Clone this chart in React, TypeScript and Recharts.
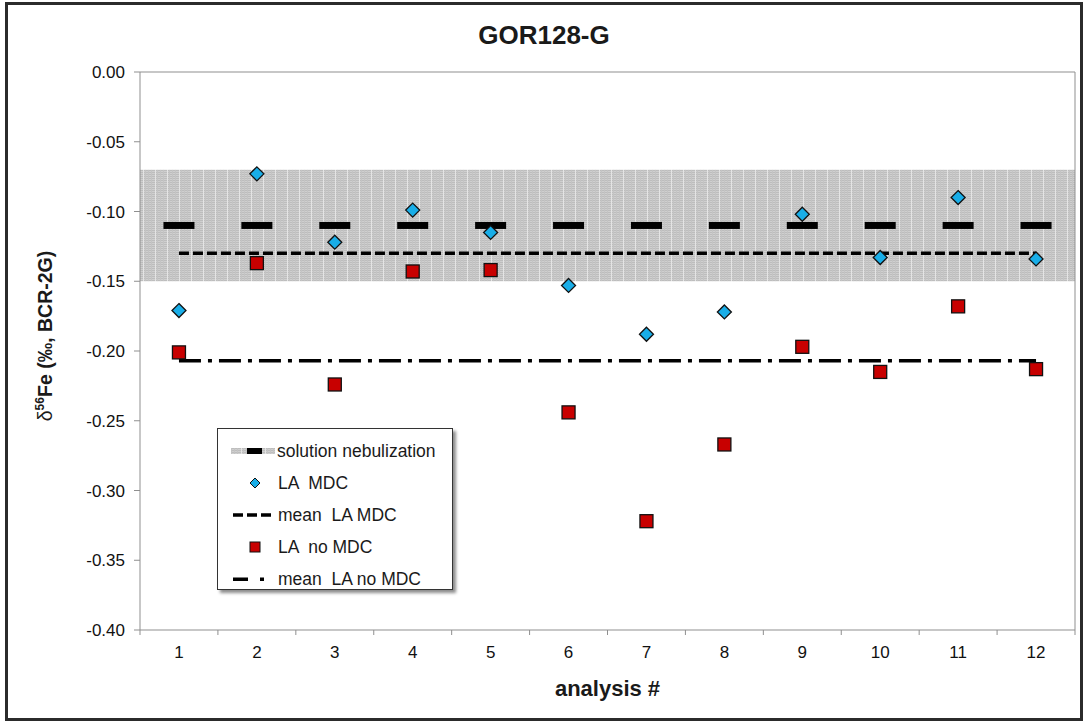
import React from 'react';
import {
  ComposedChart,
  Scatter,
  Line,
  XAxis,
  YAxis,
  ReferenceArea,
  ReferenceLine
} from 'recharts';

// analysis number on x, δ56Fe (‰) on y
const analyses = [1, 2, 3, 4, 5, 6, 7, 8, 9, 10, 11, 12];
const laMdc = [-0.171, -0.073, -0.122, -0.099, -0.115, -0.153, -0.188, -0.172, -0.102, -0.133, -0.09, -0.134];
const laNoMdc = [-0.201, -0.137, -0.224, -0.143, -0.142, -0.244, -0.322, -0.267, -0.197, -0.215, -0.168, -0.213];
const solutionValue = -0.11;
const solutionBand = [-0.15, -0.07];
const meanLaMdc = -0.13;
const meanLaNoMdc = -0.207;
const yTicks = [0, -0.05, -0.1, -0.15, -0.2, -0.25, -0.3, -0.35, -0.4];

const W = 1085;
const H = 722;
const MARGIN = { top: 72, right: 10, bottom: 52, left: 80 };
const Y_AXIS_W = 60;
const X_AXIS_H = 40;
const PLOT_LEFT = MARGIN.left + Y_AXIS_W;
const PLOT_RIGHT = W - MARGIN.right;
const PLOT_BOTTOM = H - MARGIN.bottom - X_AXIS_H;
const HALF_BAND = (PLOT_RIGHT - PLOT_LEFT) / analyses.length / 2;

const AXIS = '#8f8f8f';
const BLUE = '#19aee8';
const RED = '#c80000';
const FONT = '"Liberation Sans", Arial, Helvetica, sans-serif';

const rows = analyses.map((x, i) => ({
  x,
  mdc: laMdc[i],
  noMdc: laNoMdc[i],
  sn: solutionValue,
  meanMdc: meanLaMdc,
  meanNoMdc: meanLaNoMdc
}));

const Diamond = (props: any) => {
  const { cx, cy } = props;
  const r = 7;
  return (
    <path
      d={`M${cx},${cy - r}L${cx + r},${cy}L${cx},${cy + r}L${cx - r},${cy}Z`}
      fill={BLUE}
      stroke="#111"
      strokeWidth={1.3}
    />
  );
};

const Square = (props: any) => {
  const { cx, cy } = props;
  const s = 13;
  return <rect x={cx - s / 2} y={cy - s / 2} width={s} height={s} fill={RED} stroke="#111" strokeWidth={1.3} />;
};

const SolutionDash = (props: any) => {
  const { cx, cy } = props;
  return <rect x={cx - 15.5} y={cy - 3.5} width={31} height={7} fill="#000" />;
};

// tick marks sit on the category boundaries, labels in the middle
const XTick = (props: any) => {
  const { x, payload, index } = props;
  const last = index === analyses.length - 1;
  return (
    <g>
      <line x1={x - HALF_BAND} x2={x - HALF_BAND} y1={PLOT_BOTTOM} y2={PLOT_BOTTOM + 5} stroke={AXIS} />
      {last && (
        <line x1={x + HALF_BAND} x2={x + HALF_BAND} y1={PLOT_BOTTOM} y2={PLOT_BOTTOM + 5} stroke={AXIS} />
      )}
      <text x={x} y={PLOT_BOTTOM + 28} textAnchor="middle" fontSize={17} fill="#111" fontFamily={FONT}>
        {payload.value}
      </text>
    </g>
  );
};

const legendRows = [
  { key: 'sn', label: 'solution nebulization' },
  { key: 'mdc', label: 'LA  MDC' },
  { key: 'meanMdc', label: 'mean  LA MDC' },
  { key: 'noMdc', label: 'LA  no MDC' },
  { key: 'meanNoMdc', label: 'mean  LA no MDC' }
];

const LegendIcon = ({ kind }: { kind: string }) => {
  return (
    <svg width={46} height={14} style={{ display: 'block' }}>
      {kind === 'sn' && (
        <>
          <rect x={1} y={4} width={44} height={6} fill="url(#bandFill)" />
          <rect x={17} y={4} width={15} height={6} fill="#000" />
        </>
      )}
      {kind === 'mdc' && <path d="M25,2L30,7L25,12L20,7Z" fill={BLUE} stroke="#111" strokeWidth={1} />}
      {kind === 'meanMdc' && (
        <line x1={3} x2={43} y1={7} y2={7} stroke="#000" strokeWidth={3.5} strokeDasharray="10 4" />
      )}
      {kind === 'noMdc' && <rect x={20} y={2} width={10} height={10} fill={RED} stroke="#111" strokeWidth={1} />}
      {kind === 'meanNoMdc' && (
        <>
          <rect x={3} y={5.5} width={15} height={3.5} fill="#000" />
          <rect x={30} y={5.5} width={4} height={3.5} fill="#000" />
        </>
      )}
    </svg>
  );
};

export default function App(): React.ReactElement {
  return (
    <div style={{ position: 'absolute', left: 0, top: 0, width: W, height: H, fontFamily: FONT, background: '#fff' }}>
      <svg width={0} height={0} style={{ position: 'absolute' }}>
        <defs>
          <pattern id="bandFill" width={12} height={10} patternUnits="userSpaceOnUse">
            <rect width={12} height={10} fill="#cfcfcf" />
            <path d="M0,0.5H12M0,2.5H12M0,4.5H12M0,6.5H12M0,8.5H12" stroke="#bdbdbd" strokeWidth={1} />
            <path d="M1.5,0V10M4.5,0V10M7.5,0V10" stroke="#c4c4c4" strokeWidth={1} />
            <path d="M11.5,0V10" stroke="#e4e4e4" strokeWidth={1} />
          </pattern>
        </defs>
      </svg>

      <div
        style={{
          position: 'absolute',
          left: 5,
          top: 2,
          width: 1078,
          height: 719,
          boxSizing: 'border-box',
          border: '3px solid #2b2b2b'
        }}
      />

      <div
        style={{
          position: 'absolute',
          left: 0,
          width: 1088,
          top: 22,
          textAlign: 'center',
          fontSize: 26,
          fontWeight: 'bold',
          color: '#1a1a1a',
          lineHeight: '26px'
        }}
      >
        GOR128-G
      </div>

      <div style={{ position: 'absolute', left: 0, top: 0 }}>
        <ComposedChart width={W} height={H} data={rows} margin={MARGIN}>
          <XAxis
            dataKey="x"
            type="number"
            domain={[0.5, 12.5]}
            allowDataOverflow
            ticks={analyses}
            tickLine={false}
            tick={<XTick />}
            stroke={AXIS}
            height={X_AXIS_H}
          />
          <YAxis
            type="number"
            domain={[-0.4, 0]}
            allowDataOverflow
            ticks={yTicks}
            tickFormatter={(v: number) => v.toFixed(2)}
            tickSize={6}
            tickMargin={9}
            stroke={AXIS}
            tick={{ fill: '#111', fontSize: 17 }}
            width={Y_AXIS_W}
          />
          <ReferenceArea
            x1={0.5}
            x2={12.5}
            y1={solutionBand[0]}
            y2={solutionBand[1]}
            fill="url(#bandFill)"
            fillOpacity={1}
            stroke="none"
          />
          <ReferenceLine y={0} stroke={AXIS} />
          <ReferenceLine x={12.5} stroke={AXIS} />
          <Scatter dataKey="sn" shape={<SolutionDash />} isAnimationActive={false} />
          <Line
            dataKey="meanMdc"
            stroke="#000"
            strokeWidth={3.5}
            strokeDasharray="10 4"
            dot={false}
            isAnimationActive={false}
          />
          <Line
            dataKey="meanNoMdc"
            stroke="#000"
            strokeWidth={3.5}
            strokeDasharray="22 7 4 7"
            dot={false}
            isAnimationActive={false}
          />
          <Scatter dataKey="mdc" shape={<Diamond />} isAnimationActive={false} />
          <Scatter dataKey="noMdc" shape={<Square />} isAnimationActive={false} />
        </ComposedChart>
      </div>

      <div
        style={{
          position: 'absolute',
          left: 45,
          top: 336,
          transform: 'translate(-50%, -50%) rotate(-90deg)',
          whiteSpace: 'nowrap',
          fontSize: 19.5,
          color: '#1a1a1a'
        }}
      >
        δ<sup style={{ fontSize: 12, fontWeight: 'bold' }}>56</sup>
        <span style={{ fontWeight: 'bold' }}>Fe (‰, BCR-2G)</span>
      </div>

      <div
        style={{
          position: 'absolute',
          left: 0,
          width: PLOT_LEFT + PLOT_RIGHT,
          top: 677,
          textAlign: 'center',
          fontSize: 22,
          fontWeight: 'bold',
          color: '#1a1a1a',
          lineHeight: '24px'
        }}
      >
        analysis #
      </div>

      <div
        style={{
          position: 'absolute',
          left: 217,
          top: 428,
          width: 236,
          height: 162,
          boxSizing: 'border-box',
          border: '1.5px solid #333',
          background: '#fff',
          boxShadow: '3px 3px 3px rgba(0,0,0,0.45)',
          paddingTop: 6
        }}
      >
        {legendRows.map((r) => (
          <div key={r.key} style={{ display: 'flex', alignItems: 'center', height: 32, paddingLeft: 12 }}>
            <LegendIcon kind={r.key} />
            <span style={{ fontSize: 17.5, color: '#1a1a1a', whiteSpace: 'pre', marginLeft: r.key === 'sn' ? 1 : 2 }}>
              {r.label}
            </span>
          </div>
        ))}
      </div>
    </div>
  );
}
